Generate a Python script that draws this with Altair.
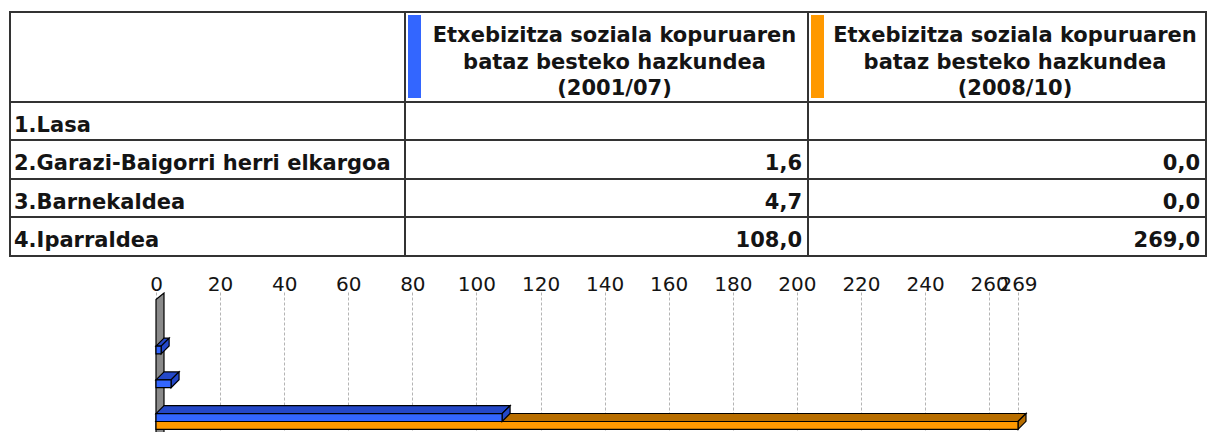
import altair as alt
import pandas as pd

# ---- data -------------------------------------------------------------
categories = [
    "1.Lasa",
    "2.Garazi-Baigorri herri elkargoa",
    "3.Barnekaldea",
    "4.Iparraldea",
]
series_titles = [
    ["Etxebizitza soziala kopuruaren", "bataz besteko hazkundea", "(2001/07)"],
    ["Etxebizitza soziala kopuruaren", "bataz besteko hazkundea", "(2008/10)"],
]
growth_2001_07 = [None, 1.6, 4.7, 108.0]
growth_2008_10 = [None, 0.0, 0.0, 269.0]
axis_values = [0, 20, 40, 60, 80, 100, 120, 140, 160, 180, 200, 220, 240, 260, 269]

front_colors = ["#3366ff", "#ff9900"]
depth_colors = ["#2448c8", "#b86e00"]

# ---- layout -----------------------------------------------------------
W = 1208
TABLE_H = 292
PLOT_H = 140
COL_EDGES = [10, 405, 808, 1206]
ROW_EDGES = [12, 102, 140, 179, 217, 256]
HEADER_BASE = 42
HEADER_LINE = 26.5
SWATCH = (3, 16, 15, 98)  # x-offset from column edge, x2-offset, y, y2
FONT = "DejaVu Sans"
TEXT_SIZE = 21
INK = "#141414"
LINE_INK = "#333333"

series_values = [growth_2001_07, growth_2008_10]


def fmt(v):
    return f"{v:.1f}".replace(".", ",")


# ---- table ------------------------------------------------------------
cells = pd.DataFrame(
    [
        dict(x=COL_EDGES[c], x2=COL_EDGES[c + 1], y=ROW_EDGES[r], y2=ROW_EDGES[r + 1])
        for r in range(len(ROW_EDGES) - 1)
        for c in range(len(COL_EDGES) - 1)
    ]
)
swatches = pd.DataFrame(
    [
        dict(
            x=COL_EDGES[s + 1] + SWATCH[0],
            x2=COL_EDGES[s + 1] + SWATCH[1],
            y=SWATCH[2],
            y2=SWATCH[3],
            series=s,
        )
        for s in range(len(series_titles))
    ]
)
header_text = pd.DataFrame(
    [
        dict(
            x=(COL_EDGES[s + 1] + SWATCH[1] + COL_EDGES[s + 2]) / 2,
            y=HEADER_BASE + li * HEADER_LINE,
            text=line,
        )
        for s, lines in enumerate(series_titles)
        for li, line in enumerate(lines)
    ]
)
row_text = pd.DataFrame(
    [
        dict(x=COL_EDGES[0] + 4, y=(ROW_EDGES[i + 1] + ROW_EDGES[i + 2]) / 2 + 10.5, text=cat)
        for i, cat in enumerate(categories)
    ]
)
value_text = pd.DataFrame(
    [
        dict(
            x=COL_EDGES[s + 2] - 6,
            y=(ROW_EDGES[i + 1] + ROW_EDGES[i + 2]) / 2 + 10.5,
            text=fmt(v),
        )
        for s, vals in enumerate(series_values)
        for i, v in enumerate(vals)
        if v is not None
    ]
)

tx = alt.Scale(domain=[0, W], nice=False, zero=False)
ty = alt.Scale(domain=[0, TABLE_H], nice=False, zero=False, reverse=True)

cell_layer = alt.Chart(cells).mark_rect(fill="white", stroke=LINE_INK, strokeWidth=2).encode(
    x=alt.X("x:Q", scale=tx, axis=None),
    x2="x2:Q",
    y=alt.Y("y:Q", scale=ty, axis=None),
    y2="y2:Q",
)
swatch_layer = alt.Chart(swatches).mark_rect().encode(
    x=alt.X("x:Q", scale=tx, axis=None),
    x2="x2:Q",
    y=alt.Y("y:Q", scale=ty, axis=None),
    y2="y2:Q",
    fill=alt.Fill("series:N", scale=alt.Scale(domain=[0, 1], range=front_colors), legend=None),
)
text_style = dict(font=FONT, fontSize=TEXT_SIZE, fontWeight="bold", color=INK, baseline="alphabetic")
header_layer = alt.Chart(header_text).mark_text(align="center", **text_style).encode(
    x=alt.X("x:Q", scale=tx, axis=None), y=alt.Y("y:Q", scale=ty, axis=None), text="text:N"
)
row_layer = alt.Chart(row_text).mark_text(align="left", **text_style).encode(
    x=alt.X("x:Q", scale=tx, axis=None), y=alt.Y("y:Q", scale=ty, axis=None), text="text:N"
)
value_layer = alt.Chart(value_text).mark_text(align="right", **text_style).encode(
    x=alt.X("x:Q", scale=tx, axis=None), y=alt.Y("y:Q", scale=ty, axis=None), text="text:N"
)
table = alt.layer(cell_layer, swatch_layer, header_layer, row_layer, value_layer).properties(
    width=W, height=TABLE_H
)

# ---- 3-D bar chart ----------------------------------------------------
ZERO_PX, MAX_PX = 156, 1018
k = (MAX_PX - ZERO_PX) / axis_values[-1]          # pixels per unit
CAT0_PX, STEP_PX = 28.1, 33.8                      # first category centre, spacing
BAR_T = 7.8 / STEP_PX                              # bar thickness (category units)
DX = 8 / k                                         # depth, value units
DY = 8 / STEP_PX                                   # depth, category units
y_dom = [-CAT0_PX / STEP_PX, (PLOT_H - CAT0_PX) / STEP_PX]
x_dom = [-ZERO_PX / k, (W - ZERO_PX) / k]

fronts, tops, sides = [], [], []
for s, vals in enumerate(series_values):
    for i, v in enumerate(vals):
        if not v:
            continue
        y0 = i - BAR_T if s == 0 else i
        y1 = y0 + BAR_T
        bid = f"{s}-{i}"
        fronts.append(dict(bar=bid, series=s, base=0, v=v, y0=y0, y1=y1))
        tops.append(dict(bar=bid, series=s, yy=y0, xa=0, xb=v))
        tops.append(dict(bar=bid, series=s, yy=y0 - DY, xa=DX, xb=v + DX))
        sides.append(dict(bar=bid, series=s, xx=v, ya=y0, yb=y1))
        sides.append(dict(bar=bid, series=s, xx=v + DX, ya=y0 - DY, yb=y1 - DY))
fronts, tops, sides = pd.DataFrame(fronts), pd.DataFrame(tops), pd.DataFrame(sides)

WALL_TOP = (7.5 - CAT0_PX) / STEP_PX
WALL_DY = 6.5 / STEP_PX
wall = pd.DataFrame(
    [
        dict(xx=0, ya=WALL_TOP, yb=y_dom[1] + 1),
        dict(xx=DX, ya=WALL_TOP - WALL_DY, yb=y_dom[1] + 1 - WALL_DY),
    ]
)

bx = alt.Scale(domain=x_dom, nice=False, zero=False)
by = alt.Scale(domain=y_dom, nice=False, zero=False, reverse=True)
value_axis = alt.Axis(
    orient="top",
    values=axis_values,
    format="d",
    title=None,
    domain=False,
    ticks=False,
    grid=True,
    gridDash=[3, 2],
    gridColor="#b4b4b4",
    gridWidth=1,
    labelFont=FONT,
    labelFontSize=20,
    labelColor=INK,
    labelPadding=2,
    labelBaseline="alphabetic",
    labelOverlap=False,
    labelFlush=False,
)

wall_layer = alt.Chart(wall).mark_area(
    orient="vertical", fill="#8a8a8a", stroke="black", strokeWidth=1.2, clip=True
).encode(
    x=alt.X("xx:Q", scale=bx, axis=value_axis, title=None),
    y=alt.Y("ya:Q", scale=by, axis=None),
    y2="yb:Q",
)

bar_layers = []
for s in [1, 0]:
    top = alt.Chart(tops).transform_filter(alt.datum.series == s).mark_area(
        orient="horizontal", fill=depth_colors[s], stroke="black", strokeWidth=1.2, clip=True
    ).encode(
        y=alt.Y("yy:Q", scale=by, axis=None),
        x=alt.X("xa:Q", scale=bx, axis=value_axis, title=None),
        x2="xb:Q",
        detail="bar:N",
    )
    side = alt.Chart(sides).transform_filter(alt.datum.series == s).mark_area(
        orient="vertical", fill=depth_colors[s], stroke="black", strokeWidth=1.2, clip=True
    ).encode(
        x=alt.X("xx:Q", scale=bx, axis=value_axis, title=None),
        y=alt.Y("ya:Q", scale=by, axis=None),
        y2="yb:Q",
        detail="bar:N",
    )
    front = alt.Chart(fronts).transform_filter(alt.datum.series == s).mark_rect(
        fill=front_colors[s], stroke="black", strokeWidth=1.2, clip=True
    ).encode(
        x=alt.X("base:Q", scale=bx, axis=value_axis, title=None),
        x2="v:Q",
        y=alt.Y("y0:Q", scale=by, axis=None),
        y2="y1:Q",
    )
    bar_layers += [top, side, front]

bars = alt.layer(wall_layer, *bar_layers).properties(width=W, height=PLOT_H)

chart = (
    alt.vconcat(table, bars, spacing=0, bounds="flush")
    .properties(padding=0, background="white")
    .configure_view(stroke=None)
)
chart.save("out.html", embed_options={"renderer": "svg", "actions": False})
